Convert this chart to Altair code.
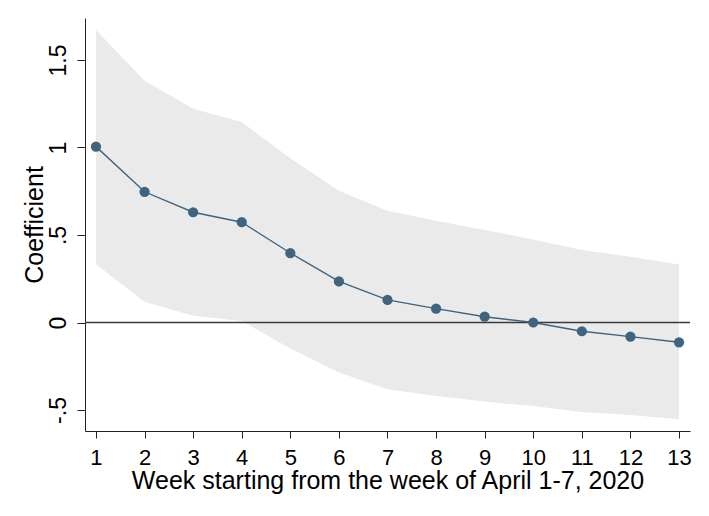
import altair as alt
import pandas as pd

weeks = list(range(1, 14))
coef = [1.005, 0.747, 0.630, 0.573, 0.397, 0.235, 0.129, 0.079, 0.033, 0.000, -0.050, -0.081, -0.113]
upper = [1.671, 1.382, 1.222, 1.146, 0.938, 0.753, 0.639, 0.582, 0.529, 0.475, 0.414, 0.376, 0.332]
lower = [0.333, 0.119, 0.039, 0.008, -0.148, -0.285, -0.382, -0.420, -0.452, -0.477, -0.511, -0.529, -0.553]
y_ticks = [-0.5, 0, 0.5, 1, 1.5]

df = pd.DataFrame({"week": weeks, "coef": coef, "upper": upper, "lower": lower})

FONT = "Liberation Sans"
xscale = alt.Scale(domain=[0.774, 13.226], nice=False, zero=False)
yscale = alt.Scale(domain=[-0.62, 1.74], nice=False, zero=False)

xaxis = alt.Axis(
    values=weeks, title="Week starting from the week of April 1-7, 2020",
    grid=False, domainColor="#222", tickColor="#222", tickSize=7,
    labelFontSize=22, labelFont=FONT, labelColor="#000", labelPadding=9,
    labelBaseline="top", labelAngle=0,
    titleFontSize=25, titleFont=FONT, titleFontWeight="normal", titleColor="#000",
    titleBaseline="alphabetic", titleX=302.5, titleY=57, titleAlign="center",
)
yaxis = alt.Axis(
    values=y_ticks, title="Coefficient",
    labelExpr="datum.value == -0.5 ? '-.5' : datum.value == 0.5 ? '.5' : datum.value == 1.5 ? '1.5' : datum.value == 1 ? '1' : '0'",
    grid=False, domainColor="#222", tickColor="#222", tickSize=8,
    labelFontSize=23, labelFont=FONT, labelColor="#000", labelPadding=12,
    labelAngle=270, labelAlign="center", labelBaseline="alphabetic",
    titleFontSize=25, titleFont=FONT, titleFontWeight="normal", titleColor="#000",
    titleAngle=270, titleBaseline="alphabetic", titleAlign="center",
    titleX=-43, titleY=206.5,
)

base = alt.Chart(df)
band = base.mark_area(color="#EAEAEA", opacity=1).encode(
    x=alt.X("week:Q", scale=xscale, axis=xaxis),
    y=alt.Y("lower:Q", scale=yscale, axis=yaxis),
    y2="upper:Q",
)
zero = alt.Chart(pd.DataFrame({"z": [0]})).mark_rule(color="#3a3a3a", strokeWidth=1.3).encode(
    y=alt.Y("z:Q", scale=yscale)
)
line = base.mark_line(color="#3e6480", strokeWidth=1.4).encode(
    x=alt.X("week:Q", scale=xscale), y=alt.Y("coef:Q", scale=yscale)
)
pts = base.mark_point(filled=True, color="#3e6480", opacity=1, size=105).encode(
    x=alt.X("week:Q", scale=xscale), y=alt.Y("coef:Q", scale=yscale)
)

chart = alt.layer(band, zero, line, pts).properties(
    width=605, height=413,
    autosize=alt.AutoSizeParams(type="none"),
    padding={"left": 77, "top": 10, "right": 11, "bottom": 77},
    background="white",
).configure_view(stroke=None)

chart.save("out.html", embed_options={"renderer": "svg", "actions": False})
